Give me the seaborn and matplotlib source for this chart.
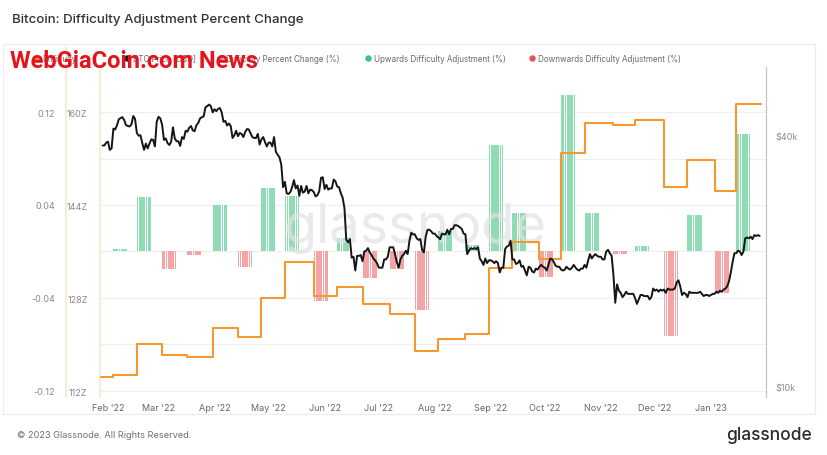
import numpy as np
import pandas as pd
import matplotlib
matplotlib.use("Agg")
import matplotlib.pyplot as plt
import matplotlib.dates as mdates
from matplotlib.lines import Line2D
from matplotlib.patches import Rectangle
from matplotlib.ticker import FixedLocator, NullLocator
import seaborn as sns

# ---------------- data ----------------
title = "Bitcoin: Difficulty Adjustment Percent Change"

price_start = "2022-01-29"
price_k = [
    37.9, 37.9, 38.5,
    38.7, 37.0, 37.3, 41.6, 41.4, 42.4, 43.8, 44.1, 44.3, 43.6, 42.4, 42.2, 42.1, 42.6,
    44.6, 43.9, 40.6, 40.0, 40.1, 38.4, 37.0, 38.3, 37.3, 38.3, 39.2, 39.1, 37.7, 43.2,
    44.4, 44.0, 42.5, 39.1, 39.4, 38.4, 38.0, 38.7, 41.9, 39.4, 38.8, 38.8, 37.8, 39.7,
    39.3, 41.1, 40.9, 41.8, 42.2, 41.2, 41.0, 42.4, 42.9, 44.0, 44.3, 44.5, 46.8, 47.1,
    47.5, 47.1, 45.5,
    46.3, 45.8, 46.4, 46.6, 45.5, 43.2, 43.4, 42.3, 42.8, 42.2, 39.5, 40.1, 41.1, 39.9,
    40.6, 40.4, 39.7, 40.8, 41.5, 41.4, 40.5, 39.7, 39.5, 39.5, 40.4, 38.1, 39.2, 39.7,
    38.6, 37.7,
    38.5, 38.5, 37.7, 39.7, 36.6, 36.0, 35.5, 34.1, 30.1, 31.0, 29.1, 29.0, 29.3, 30.1,
    31.3, 29.9, 30.4, 28.7, 30.3, 29.2, 29.4, 30.3, 29.1, 29.7, 29.6, 29.3, 28.6, 28.8,
    29.4, 31.7, 31.8,
    29.8, 30.5, 29.7, 29.9, 29.9, 31.4, 31.1, 30.2, 30.1, 29.1, 28.4, 26.8, 22.5, 22.2,
    22.6, 20.4, 20.5, 19.0, 20.6, 20.6, 20.7, 20.0, 21.1, 21.2, 21.5, 21.0, 20.7, 20.3,
    20.1, 19.8,
    19.3, 19.3, 19.3, 20.2, 20.2, 20.5, 21.6, 21.6, 21.6, 20.8, 19.9, 19.3, 20.2, 20.6,
    20.8, 21.2, 20.8, 22.4, 23.4, 23.2, 23.2, 22.7, 22.5, 22.6, 21.3, 21.0, 22.9, 23.8,
    23.8, 23.6, 23.3,
    23.3, 23.0, 22.8, 22.6, 23.3, 23.2, 23.2, 23.8, 23.2, 23.9, 23.9, 24.4, 24.4, 24.3,
    24.1, 23.9, 23.3, 23.2, 20.8, 21.2, 21.5, 21.4, 21.5, 21.4, 21.6, 20.3, 20.0, 19.6,
    20.3, 19.8, 20.1,
    20.1, 20.0, 19.8, 20.0, 19.8, 18.8, 19.3, 19.3, 21.4, 21.7, 21.8, 22.4, 20.2, 20.2,
    19.7, 19.8, 20.1, 19.4, 19.5, 19.0, 18.5, 19.4, 19.3, 18.9, 18.8, 19.2, 19.1, 19.4,
    19.6, 19.4,
    19.3, 19.0, 19.6, 20.3, 20.2, 19.9, 19.5, 19.4, 19.4, 19.1, 19.0, 19.1, 19.4, 19.2,
    19.1, 19.3, 19.6, 19.3, 19.1, 19.0, 19.2, 19.2, 19.6, 19.3, 20.1, 20.8, 20.3, 20.6,
    20.8, 20.6, 20.5,
    20.5, 20.2, 20.2, 21.1, 21.3, 20.9, 20.6, 18.5, 15.9, 17.6, 17.0, 16.8, 16.4, 16.6,
    16.9, 16.7, 16.7, 16.7, 16.7, 16.3, 15.8, 16.2, 16.6, 16.6, 16.5, 16.5, 16.5, 16.2,
    16.4, 17.2,
    17.0, 17.1, 16.9, 17.1, 17.0, 17.1, 16.8, 17.2, 17.1, 17.1, 17.1, 17.2, 17.8, 18.0,
    17.4, 16.6, 16.8, 16.7, 16.4, 16.9, 16.8, 16.8, 16.8, 16.8, 16.8, 16.9, 16.7, 16.5,
    16.6, 16.6, 16.5,
    16.6, 16.7, 16.7, 16.9, 16.8, 17.0, 16.9, 17.1, 17.2, 17.4, 17.9, 18.8, 19.9, 20.9,
    20.9, 21.2, 21.1, 20.7, 21.1, 22.7, 22.8, 22.7, 22.9, 22.6, 23.1, 23.0, 23.1, 23.0,
]

adj_dates = [
    "2022-02-04", "2022-02-17", "2022-03-03", "2022-03-17", "2022-03-31", "2022-04-14",
    "2022-04-27", "2022-05-10", "2022-05-26", "2022-06-08", "2022-06-22", "2022-07-07",
    "2022-07-21", "2022-08-03", "2022-08-18", "2022-08-31", "2022-09-13", "2022-09-28",
    "2022-10-10", "2022-10-23", "2022-11-08", "2022-11-20", "2022-12-06", "2022-12-19",
    "2023-01-03", "2023-01-15",
]
adj_change = [
    0.002, 0.047, -0.015, -0.003, 0.040, -0.013, 0.055, 0.048, -0.043, 0.0117, -0.023,
    -0.015, -0.050, 0.0174, 0.0054, 0.092, 0.033, -0.0217, 0.1345, 0.033, -0.002,
    0.0051, -0.073, 0.0317, -0.036, 0.101,
]

diff_dates = ["2022-01-28"] + adj_dates + ["2023-01-29"]
diff_z = [
    114.46, 114.70, 120.09, 118.24, 117.90, 122.78, 121.24, 127.94, 134.14, 128.29,
    129.94, 126.96, 125.24, 118.93, 120.94, 121.80, 133.10, 137.68, 134.70, 152.88,
    158.10, 157.80, 158.66, 147.04, 151.78, 146.40, 161.36, 161.36,
]

month_ticks = ["2022-02-01", "2022-03-01", "2022-04-01", "2022-05-01", "2022-06-01",
               "2022-07-01", "2022-08-01", "2022-09-01", "2022-10-01", "2022-11-01",
               "2022-12-01", "2023-01-01"]
month_labels = ["Feb '22", "Mar '22", "Apr '22", "May '22", "Jun '22", "Jul '22",
                "Aug '22", "Sep '22", "Oct '22", "Nov '22", "Dec '22", "Jan '23"]

bar_grid = [-0.12, -0.08, -0.04, 0.0, 0.04, 0.08, 0.12]
bar_grid_labels = ["-0.12", "", "-0.04", "", "0.04", "", "0.12"]
diff_ticks = [112, 128, 144, 160]
diff_tick_labels = ["112Z", "128Z", "144Z", "160Z"]
price_ticks = [10000, 40000]
price_tick_labels = ["$10k", "$40k"]

legend_labels = ["Difficulty", "BTC Price [USD]", "Difficulty Percent Change (%)",
                 "Upwards Difficulty Adjustment (%)", "Downwards Difficulty Adjustment (%)"]

# ---------------- style ----------------
sns.set_theme(style="white")
plt.rcParams["font.family"] = ["Inter", "DejaVu Sans"]

GREEN = "#8fdcb4"
RED = "#f4a4a7"
ORANGE = "#f5982f"
BLACK = "#151515"
PEACH = "#fbe6d2"
TICK = "#8a8a8a"

W, H = 828, 456
fig = plt.figure(figsize=(W / 100, H / 100), dpi=100)
fig.patch.set_facecolor("white")


def fx(px):
    return px / W


def fy(py):
    return 1 - py / H


L, R, T, B = 100, 766, 95, 398
ax = fig.add_axes([fx(L), fy(B), fx(R - L), (B - T) / H])
ax.patch.set_alpha(0)

# panel frame
fig.add_artist(Rectangle((fx(3), fy(415)), fx(812), (415 - 45) / H, transform=fig.transFigure,
                         facecolor="none", edgecolor="#ececec", lw=0.8, zorder=0))

# ---------------- bars (daily stripes through the first days of each epoch) -------------
for d, v in zip(adj_dates, adj_change):
    start = mdates.date2num(pd.Timestamp(d))
    xs = start + np.arange(8)
    ax.bar(xs, [v] * 8, width=0.78, align="edge", color=GREEN if v >= 0 else RED,
           linewidth=0, zorder=2)

ax.set_ylim(-0.1252, 0.1355)
ax.set_yticks(bar_grid)
ax.set_yticklabels(bar_grid_labels)
ax.grid(axis="y", color="#efefef", lw=0.8, zorder=0)
ax.grid(axis="x", visible=False)
for s in ["top", "right", "bottom"]:
    ax.spines[s].set_visible(False)
ax.spines["left"].set_position(("outward", 24.5))
ax.spines["left"].set_color(PEACH)
ax.spines["left"].set_linewidth(1.2)
ax.tick_params(axis="y", length=0, pad=8, labelsize=6.5, labelcolor=TICK)

xmin = mdates.date2num(pd.Timestamp("2022-01-27 14:00"))
xmax = mdates.date2num(pd.Timestamp("2023-01-31 12:00"))
ax.set_xlim(xmin, xmax)
ax.set_xticks([mdates.date2num(pd.Timestamp(t)) for t in month_ticks])
ax.set_xticklabels(month_labels)
ax.tick_params(axis="x", length=0, pad=4, labelsize=6.5, labelcolor="#666666")

# glassnode watermark
ax.text(0.473, 0.56, "glassnode", transform=ax.transAxes, ha="center", va="center",
        fontsize=39, color="#e2e2e2", alpha=0.7, zorder=3, family="Inter")

# ---------------- difficulty (orange) ----------------
axd = ax.twinx()
diff_df = pd.DataFrame({"x": [mdates.date2num(pd.Timestamp(t)) for t in diff_dates],
                        "z": diff_z})
sns.lineplot(data=diff_df, x="x", y="z", ax=axd, color=ORANGE, lw=1.5,
             drawstyle="steps-post", zorder=4)
axd.set_ylim(110.97, 163.1)
axd.yaxis.tick_left()
axd.yaxis.set_label_position("left")
axd.set_yticks(diff_ticks)
axd.set_yticklabels(diff_tick_labels)
axd.tick_params(axis="y", length=0, pad=9, labelsize=6.5, labelcolor=TICK)
for s in ["top", "right", "bottom"]:
    axd.spines[s].set_visible(False)
axd.spines["left"].set_visible(True)
axd.spines["left"].set_color(PEACH)
axd.spines["left"].set_linewidth(1.2)
axd.set_xlabel("")
axd.set_ylabel("")
axd.grid(False)

# ---------------- price (black, log) ----------------
axp = ax.twinx()
price_df = pd.DataFrame({
    "x": mdates.date2num(pd.date_range(price_start, periods=len(price_k), freq="D")),
    "p": np.array(price_k) * 1000.0,
})
sns.lineplot(data=price_df, x="x", y="p", ax=axp, color=BLACK, lw=1.4, zorder=5)
axp.set_yscale("log")
axp.set_ylim(9450, 50360)
axp.yaxis.set_major_locator(FixedLocator(price_ticks))
axp.yaxis.set_minor_locator(NullLocator())
axp.set_yticklabels(price_tick_labels)
axp.tick_params(axis="y", length=0, pad=7, labelsize=6.5, labelcolor=TICK)
for s in ["top", "left", "bottom"]:
    axp.spines[s].set_visible(False)
axp.spines["right"].set_color("#c4c4c4")
axp.spines["right"].set_linewidth(0.9)
axp.set_xlabel("")
axp.set_ylabel("")
axp.grid(False)
ax.set_xlim(xmin, xmax)

# axis lines continue up towards the legend band
fig.add_artist(Line2D([fx(766), fx(766)], [fy(95), fy(68)], color="#c4c4c4", lw=0.9,
                      transform=fig.transFigure))
fig.add_artist(Line2D([fx(66), fx(66)], [fy(95), fy(48)], color=PEACH, lw=1.2,
                      transform=fig.transFigure))
fig.add_artist(Line2D([fx(100), fx(100)], [fy(95), fy(72)], color=PEACH, lw=1.2,
                      transform=fig.transFigure))

# ---------------- texts ----------------
fig.text(fx(12), fy(20), title, fontsize=9.6, color="#333333", va="center", ha="left",
         fontweight="medium")

leg_y = fy(59)
leg_items = [(36, ORANGE), (127, BLACK), (220, "#a0a4a8"), (368, "#3ec07e"), (532, "#e8505b")]
for (mx, col), lab in zip(leg_items, legend_labels):
    fig.add_artist(Line2D([fx(mx)], [leg_y], marker="o", ms=3.6, color=col, lw=0,
                          transform=fig.transFigure))
    fig.text(fx(mx + 6), leg_y, lab, fontsize=5.8, color="#6a6a6a", va="center", ha="left")

fig.text(fx(17), fy(436), "\u00a9 2023 Glassnode. All Rights Reserved.", fontsize=6.6,
         color="#6f6f6f", va="center", ha="left")
fig.text(fx(812), fy(436), "glassnode", fontsize=12.5, color="#2b2b2b", va="center",
         ha="right", fontweight="medium")

# overlaid site watermark
fig.text(fx(10), fy(61), "WebGiaCoin.com News", fontsize=17, color="#e5141c",
         fontweight="bold", family=["Roboto", "DejaVu Sans"], va="center", ha="left")

fig.savefig("out.png", dpi=100)
